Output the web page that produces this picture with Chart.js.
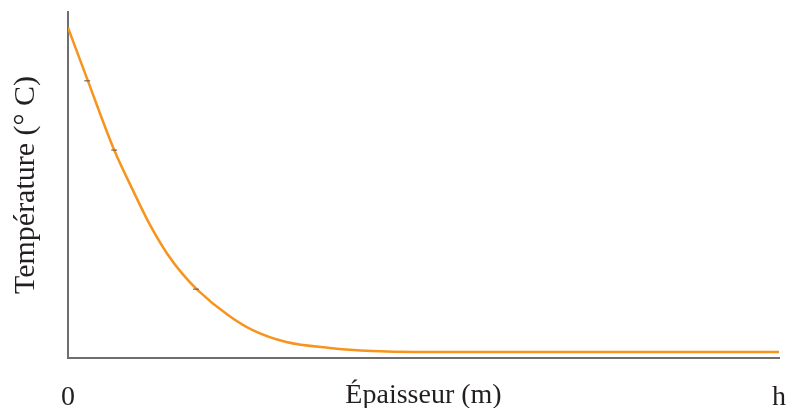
<!DOCTYPE html>
<html>
<head>
<meta charset="utf-8">
<script src="https://cdn.jsdelivr.net/npm/chart.js@4/dist/chart.umd.min.js"></script>
<style>
  html, body { margin: 0; padding: 0; background: #fff; }
  #wrap { width: 787px; height: 408px; }
</style>
</head>
<body>
<div id="wrap"><canvas id="chart"></canvas></div>
<script>
// épaisseur en fraction de h, température en % de la valeur max de l'axe
const epaisseur = [0, 0.028, 0.065, 0.091, 0.114, 0.140, 0.161, 0.182, 0.225, 0.259, 0.307, 0.368, 0.428, 0.490, 1]
const temperature = [95.5, 80.1, 60.1, 48.6, 39.0, 30.0, 24.3, 19.7, 12.4, 8.1, 4.6, 2.9, 2.0, 1.7, 1.7]

// petits repères gris posés sur la courbe
const repereX = [0.027, 0.065, 0.180]
const repereY = [80.1, 60.1, 19.9]

const xTicks = [0, 1]
const xTickLabels = ['0', 'h']

const FONT = "'Liberation Serif', 'Times New Roman', serif"
const AXIS_COLOR = '#6e6e6e'
const TEXT_COLOR = '#231f20'

const courbe = epaisseur.map((x, i) => ({ x: x, y: temperature[i] }))
const reperes = repereX.map((x, i) => ({ x: x, y: repereY[i] }))

new Chart(document.getElementById('chart').getContext('2d'), {
  type: 'line',
  data: {
    datasets: [
      {
        data: reperes,
        showLine: false,
        pointStyle: 'line',
        pointRadius: 3,
        pointBorderWidth: 1,
        pointBorderColor: '#555',
        pointBackgroundColor: '#555'
      },
      {
        data: courbe,
        borderColor: '#f7941d',
        borderWidth: 2.5,
        pointRadius: 0,
        cubicInterpolationMode: 'monotone',
        fill: false
      }
    ]
  },
  options: {
    responsive: true,
    maintainAspectRatio: false,
    animation: false,
    layout: { padding: { top: 12, right: 0, left: 0, bottom: 0 } },
    plugins: {
      legend: { display: false },
      tooltip: { enabled: false }
    },
    scales: {
      x: {
        type: 'linear',
        min: 0,
        max: 1,
        afterFit: scale => {
          scale.height = 50
          scale.paddingLeft = 0
          scale.paddingRight = 8
        },
        afterBuildTicks: scale => {
          scale.ticks = xTicks.map(v => ({ value: v }))
        },
        grid: { display: false, drawTicks: false, tickLength: 0 },
        border: { display: true, color: AXIS_COLOR, width: 2 },
        ticks: {
          padding: 23,
          maxRotation: 0,
          autoSkip: false,
          color: TEXT_COLOR,
          font: { family: FONT, size: 28 },
          callback: (value, index) => xTickLabels[index]
        },
        title: {
          display: true,
          text: 'Épaisseur (m)',
          color: TEXT_COLOR,
          font: { family: FONT, size: 28 },
          padding: { top: -34, bottom: -4 }
        }
      },
      y: {
        min: 0,
        max: 100,
        afterFit: scale => { scale.width = 68 },
        grid: { display: false, drawTicks: false, tickLength: 0 },
        border: { display: true, color: AXIS_COLOR, width: 2 },
        ticks: { display: false },
        title: {
          display: true,
          text: 'Température (° C)',
          color: TEXT_COLOR,
          font: { family: FONT, size: 30 },
          padding: { top: 8, bottom: 0 }
        }
      }
    }
  }
})
</script>
</body>
</html>
